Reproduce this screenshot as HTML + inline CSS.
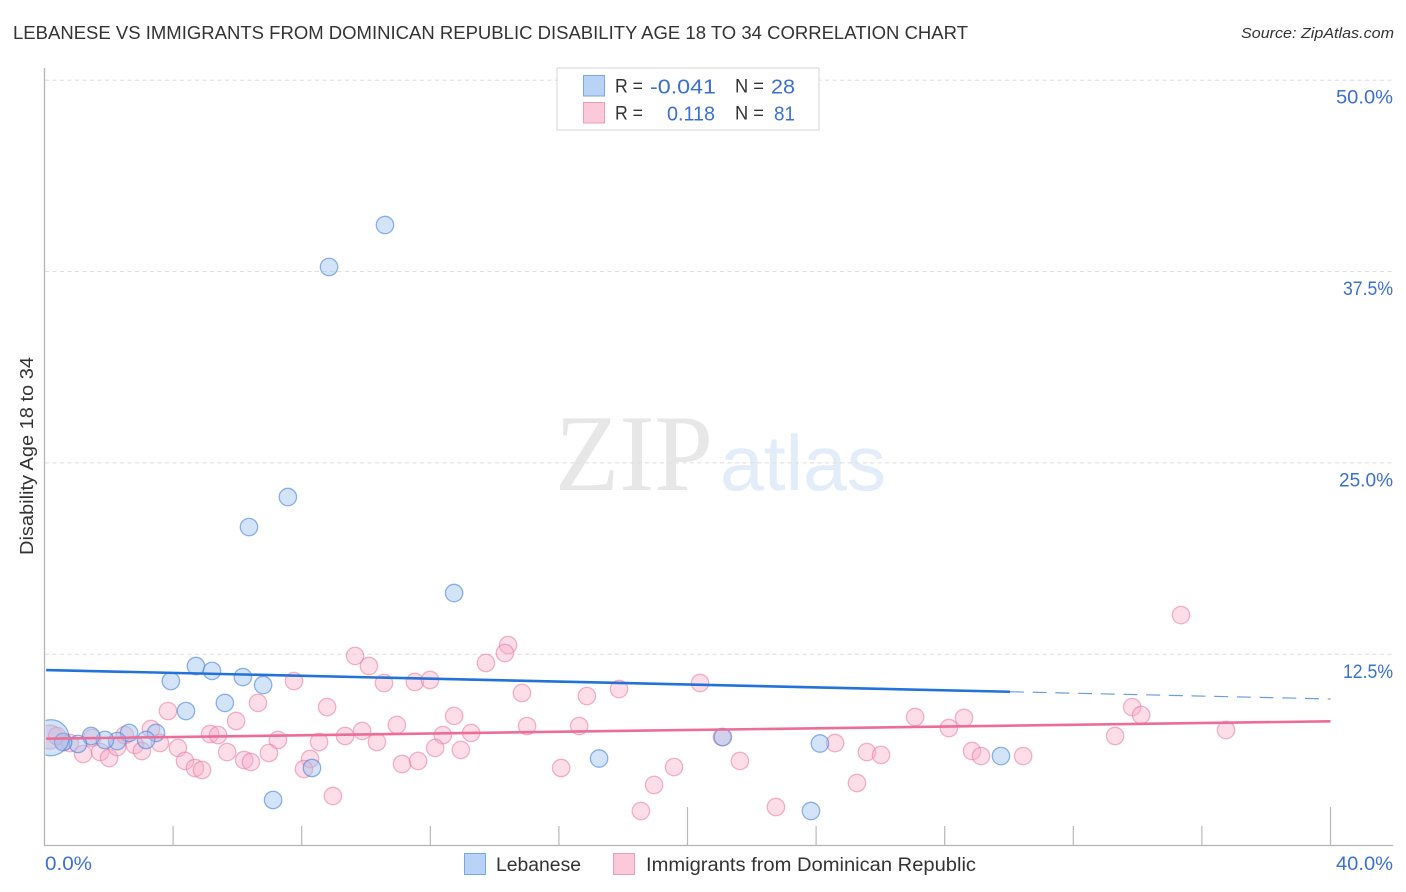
<!DOCTYPE html>
<html lang="en">
<head>
<meta charset="utf-8">
<title>Lebanese vs Immigrants from Dominican Republic Disability Age 18 to 34 Correlation Chart</title>
<style>
  html, body { margin: 0; padding: 0; background: #fff; }
  svg { display: block; font-family: "Liberation Sans", sans-serif; }
</style>
</head>
<body>
<svg id="chart" xmlns="http://www.w3.org/2000/svg" width="1406" height="892" viewBox="0 0 1406 892">
  <defs>
    <clipPath id="plot-clip"><rect x="45.5" y="60" width="1348" height="786"/></clipPath>
  </defs>
  <rect x="0" y="0" width="1406" height="892" fill="#ffffff"/>
  <text x="13" y="39" font-size="18.5" fill="#333333" textLength="955" lengthAdjust="spacingAndGlyphs">LEBANESE VS IMMIGRANTS FROM DOMINICAN REPUBLIC DISABILITY AGE 18 TO 34 CORRELATION CHART</text>
  <text x="1241" y="38" font-size="15" font-style="italic" fill="#333333" textLength="153" lengthAdjust="spacingAndGlyphs">Source: ZipAtlas.com</text>

  <text x="555" y="490" font-family="'Liberation Serif', serif" font-size="109" fill="#e7e7e7" textLength="158" lengthAdjust="spacingAndGlyphs">ZIP</text>
  <text x="720" y="490" font-size="78" fill="#e3ecf9" textLength="166" lengthAdjust="spacingAndGlyphs">atlas</text>

  <g id="grid"></g>
  <g id="axes"></g>
  <g id="points" clip-path="url(#plot-clip)"></g>
  <g id="trends"></g>
  <g id="labels"></g>

  <text transform="translate(33,456) rotate(-90)" text-anchor="middle" font-size="18" fill="#333333" textLength="198" lengthAdjust="spacingAndGlyphs">Disability Age 18 to 34</text>

  <g>
    <rect x="557" y="68" width="262" height="62" fill="#ffffff" stroke="#dddddd" stroke-width="1.2"/>
    <rect x="583.5" y="75.5" width="21" height="20.5" fill="#b9d3f7" stroke="#7ba6e6" stroke-width="1"/>
    <rect x="583.5" y="102.5" width="21" height="20.5" fill="#fcc9da" stroke="#f09ab6" stroke-width="1"/>
    <text x="615" y="92.5" font-size="19" fill="#333333" textLength="28" lengthAdjust="spacingAndGlyphs">R =</text>
    <text x="650" y="93.5" font-size="20.5" fill="#3a70d0" textLength="66" lengthAdjust="spacingAndGlyphs">-0.041</text>
    <text x="735" y="92.5" font-size="19" fill="#333333" textLength="29" lengthAdjust="spacingAndGlyphs">N =</text>
    <text x="771" y="93.5" font-size="20.5" fill="#3a70d0" textLength="24" lengthAdjust="spacingAndGlyphs">28</text>
    <text x="615" y="119.5" font-size="19" fill="#333333" textLength="28" lengthAdjust="spacingAndGlyphs">R =</text>
    <text x="667" y="120.5" font-size="20.5" fill="#3a70d0" textLength="48" lengthAdjust="spacingAndGlyphs">0.118</text>
    <text x="735" y="119.5" font-size="19" fill="#333333" textLength="29" lengthAdjust="spacingAndGlyphs">N =</text>
    <text x="774" y="120.5" font-size="20.5" fill="#3a70d0" textLength="21" lengthAdjust="spacingAndGlyphs">81</text>
  </g>

  <g>
    <rect x="464.5" y="853.5" width="21" height="21" fill="#b9d3f7" stroke="#7ba6e6" stroke-width="1"/>
    <text x="496" y="871" font-size="19" fill="#333333" textLength="85" lengthAdjust="spacingAndGlyphs">Lebanese</text>
    <rect x="613.5" y="853.5" width="21" height="21" fill="#fcc9da" stroke="#f09ab6" stroke-width="1"/>
    <text x="646" y="871" font-size="19" fill="#333333" textLength="330" lengthAdjust="spacingAndGlyphs">Immigrants from Dominican Republic</text>
  </g>
</svg>

<script>
// ---- chart data (percent units) ----
const yTickValues = [12.5, 25, 37.5, 50];
const yTickLabels = ["12.5%", "25.0%", "37.5%", "50.0%"];
const xTickValues = [0, 4, 8, 12, 16, 20, 24, 28, 32, 36, 40];
const xEndLabels = ["0.0%", "40.0%"];

const lebaneseX = [10.59, 8.85, 7.57, 6.36, 12.74, 4.71, 5.21, 3.93, 6.17, 6.80, 4.40, 5.61, 2.63, 3.47, 3.16, 2.26, 1.88, 1.45, 1.04, 0.58, 0.20, 21.10, 17.25, 24.12, 29.75, 8.32, 7.11, 23.84];
const lebaneseY = [40.54, 37.80, 22.77, 20.81, 16.50, 11.73, 11.41, 10.75, 11.01, 10.49, 8.79, 9.32, 7.36, 7.36, 6.90, 6.83, 6.90, 7.16, 6.64, 6.77, 7.05, 7.09, 5.69, 6.67, 5.85, 5.07, 2.98, 2.26];

const dominicanX = [0.17, 0.39, 0.58, 0.79, 1.20, 1.48, 1.73, 2.01, 2.26, 2.50, 2.81, 3.03, 3.31, 3.59, 4.15, 4.37, 4.68, 4.90, 3.84, 5.15, 5.40, 5.96, 6.64, 7.76, 8.79, 9.35, 7.26, 8.54, 5.68, 6.98, 6.21, 6.42, 8.26, 8.07, 8.97, 9.66, 10.09, 10.56, 11.52, 11.99, 14.42, 14.32, 13.73, 14.85, 16.87, 17.87, 12.74, 10.96, 9.88, 10.34, 12.39, 13.27, 12.15, 12.95, 11.12, 11.62, 15.01, 16.63, 16.07, 19.58, 18.96, 18.55, 20.39, 21.07, 21.63, 22.75, 24.59, 25.58, 26.02, 25.27, 27.08, 28.13, 28.60, 28.85, 29.13, 30.44, 35.35, 33.83, 34.11, 33.30, 36.75];
const dominicanY = [7.09, 7.16, 6.77, 6.70, 5.98, 7.03, 6.11, 5.72, 6.44, 7.22, 6.57, 6.18, 7.62, 6.70, 6.38, 5.53, 5.07, 4.94, 8.79, 7.29, 7.22, 8.14, 9.32, 10.75, 9.05, 7.16, 6.90, 6.77, 6.11, 6.05, 5.59, 5.46, 5.66, 5.00, 3.24, 12.39, 11.73, 10.62, 10.69, 10.82, 13.10, 12.58, 11.93, 9.97, 9.77, 10.23, 8.47, 7.88, 7.49, 6.77, 7.22, 7.36, 6.38, 6.25, 5.33, 5.53, 7.81, 7.81, 5.07, 5.13, 3.96, 2.26, 10.62, 7.09, 5.53, 2.52, 6.70, 6.11, 5.92, 4.09, 8.40, 7.68, 8.34, 6.18, 5.85, 5.85, 15.06, 9.05, 8.53, 7.16, 7.55];

const lebaneseTrend = [11.47, -0.0473];
const dominicanTrend = [6.98, 0.0285];
const lebaneseSolidEnd = 30.03;
const xDomainEnd = 40;

// ---- axis functions ----
function xScale(v) { return 44.5 + v * 32.15; }
function yScale(v) { return 845.6 - v * 15.308; }

const NS = "http://www.w3.org/2000/svg";
function make(tag, parent, attrs) {
  const el = document.createElementNS(NS, tag);
  Object.keys(attrs).forEach(function (k) { el.setAttribute(k, attrs[k]); });
  parent.appendChild(el);
  return el;
}

const gridLayer = document.getElementById("grid");
const axisLayer = document.getElementById("axes");
const pointLayer = document.getElementById("points");
const trendLayer = document.getElementById("trends");
const labelLayer = document.getElementById("labels");

// Gridlines and y labels
const yLabelWidths = { "12.5%": 50, "25.0%": 54, "37.5%": 50, "50.0%": 57 };
yTickValues.forEach(function (v, i) {
  const line = make("line", gridLayer, { x1: 45, x2: 1393, y1: yScale(v), y2: yScale(v), stroke: "#dedede", "stroke-width": 1, "stroke-dasharray": "4 3.5" });
  
  
  const t = make("text", labelLayer, { x: 1393, y: yScale(v) + 23.5, "text-anchor": "end", "font-size": 19, fill: "#3a70d0", textLength: yLabelWidths[yTickLabels[i]] || 57, lengthAdjust: "spacingAndGlyphs" });
  t.textContent = yTickLabels[i];
  
  
});

// Axis lines
const yAxisLine = make("line", axisLayer, { x1: 44.5, x2: 44.5, y1: 68, y2: 846, stroke: "#b4b4b4", "stroke-width": 1.3 });


const xAxisLine = make("line", axisLayer, { x1: 44, x2: 1393, y1: 845.5, y2: 845.5, stroke: "#b4b4b4", "stroke-width": 1.3 });



// X ticks: every 20% tick is longer
xTickValues.forEach(function (v) {
  if (v === 0) return;
  const top = v % 20 === 0 ? 807 : 826;
  const tick = make("line", axisLayer, { x1: xScale(v), x2: xScale(v), y1: top, y2: 845.5, stroke: "#b8b8b8", "stroke-width": 1.2 });
  
  
});

// X end labels
const xLabelLeft = make("text", labelLayer, { x: 45, y: 870, "font-size": 19, fill: "#3a70d0", textLength: 47, lengthAdjust: "spacingAndGlyphs" });
xLabelLeft.textContent = xEndLabels[0];


const xLabelRight = make("text", labelLayer, { x: 1393, y: 870, "text-anchor": "end", "font-size": 19, fill: "#3a70d0", textLength: 57, lengthAdjust: "spacingAndGlyphs" });
xLabelRight.textContent = xEndLabels[1];



// Points
dominicanX.forEach(function (x, i) {
  const c = make("circle", pointLayer, { cx: xScale(x), cy: yScale(dominicanY[i]), r: i === 0 ? 12 : 8.7, fill: "rgba(248,175,200,0.42)", stroke: "rgba(234,120,158,0.55)", "stroke-width": 1.3 });
  
  
});
lebaneseX.forEach(function (x, i) {
  const c = make("circle", pointLayer, { cx: xScale(x), cy: yScale(lebaneseY[i]), r: i === 20 ? 18 : 8.7, fill: "rgba(160,195,240,0.45)", stroke: "rgba(70,130,220,0.6)", "stroke-width": 1.3 });
  
  
});

// Trend lines
function trendValue(t, x) { return t[0] + t[1] * x; }
const lebaneseSolid = make("line", trendLayer, { x1: xScale(0.05), y1: yScale(trendValue(lebaneseTrend, 0.05)), x2: xScale(lebaneseSolidEnd), y2: yScale(trendValue(lebaneseTrend, lebaneseSolidEnd)), stroke: "#2272d8", "stroke-width": 2.6 });


const lebaneseDashed = make("line", trendLayer, { x1: xScale(lebaneseSolidEnd), y1: yScale(trendValue(lebaneseTrend, lebaneseSolidEnd)), x2: xScale(xDomainEnd), y2: yScale(trendValue(lebaneseTrend, xDomainEnd)), stroke: "#6f9ee0", "stroke-width": 1.2, "stroke-dasharray": "14 8.7" });


const dominicanLine = make("line", trendLayer, { x1: xScale(0.05), y1: yScale(trendValue(dominicanTrend, 0.05)), x2: xScale(xDomainEnd), y2: yScale(trendValue(dominicanTrend, xDomainEnd)), stroke: "#ec6d98", "stroke-width": 2.6 });


</script>
</body>
</html>
